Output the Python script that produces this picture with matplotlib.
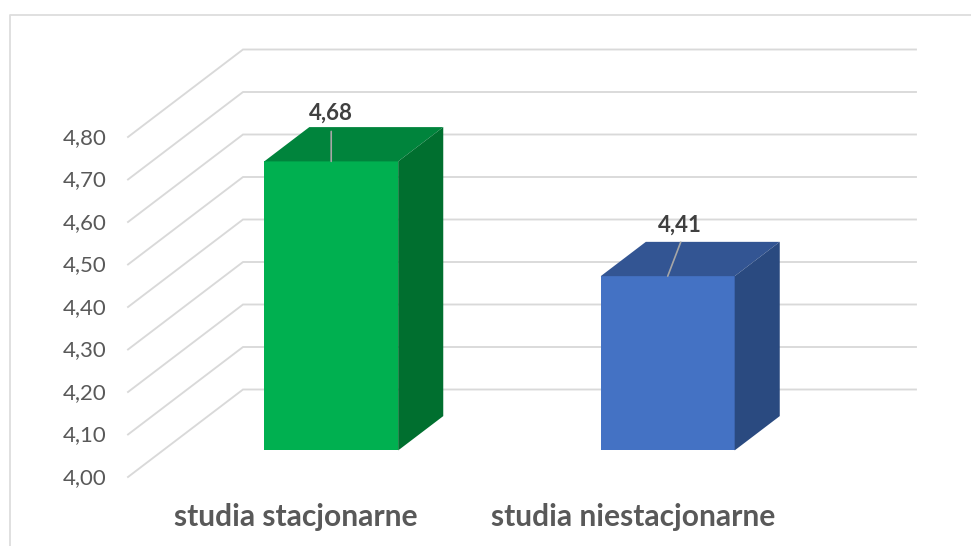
import matplotlib
matplotlib.use('Agg')
import matplotlib.pyplot as plt
from matplotlib.lines import Line2D
from matplotlib.patches import Polygon

plt.rcParams['font.family'] = ['Lato', 'DejaVu Sans']

categories = ['studia stacjonarne', 'studia niestacjonarne']
values = [4.68, 4.41]
value_labels = ['4,68', '4,41']
y_ticks = [4.0, 4.1, 4.2, 4.3, 4.4, 4.5, 4.6, 4.7, 4.8]

front_colors = ['#00B050', '#4472C4']
top_colors = ['#00843C', '#335593']
side_colors = ['#006F2F', '#2A4A80']

W, H = 971, 546
PX_PER_CAT = 336.5
PX_PER_VAL = 425.0
BACK_LEFT_PX = 243
BACK_BASE_PX = 389.5
DEPTH_X_PX = 115.0
DEPTH_Y_PX = 87.5
BASE = 4.0
BAR_W = 0.398
BAR_D0, BAR_D1 = 0.304, 0.696   # depth range of the bars, 0 = back wall, 1 = front
GRID = '#D9D9D9'
TEXT = '#595959'
LW = 1.35

fig = plt.figure(figsize=(W / 100, H / 100), dpi=100)
ax = fig.add_axes([0, 0, 1, 1])
ax.set_xlim(-0.5 - BACK_LEFT_PX / PX_PER_CAT, -0.5 + (W - BACK_LEFT_PX) / PX_PER_CAT)
ax.set_ylim(BASE - (H - BACK_BASE_PX) / PX_PER_VAL, BASE + BACK_BASE_PX / PX_PER_VAL)
ax.axis('off')


def proj(x, v, d):
    # oblique projection: depth slides a point left and down
    return (x - d * DEPTH_X_PX / PX_PER_CAT, v - d * DEPTH_Y_PX / PX_PER_VAL)


def px(n):
    return n * 0.72


# chart frame
fig.add_artist(Line2D([9.5 / W, 9.5 / W, 1], [0, 1 - 15 / H, 1 - 15 / H], color='#DDDDDD', lw=1.3))

# gridlines
for t in y_ticks:
    p = [proj(-0.5, t, 1), proj(-0.5, t, 0), proj(1.5, t, 0)]
    ax.plot([q[0] for q in p], [q[1] for q in p], color=GRID, lw=LW, zorder=1, solid_joinstyle='miter')
    ax.annotate(f'{t:.2f}'.replace('.', ','), proj(-0.5, t, 1), xytext=(px(-21), px(-1)),
                textcoords='offset points', ha='right', va='center', fontsize=16, color=TEXT)

# bars
for i, v in enumerate(values):
    x0, x1 = i - BAR_W / 2, i + BAR_W / 2
    ax.add_patch(Polygon([proj(x0, BASE, BAR_D1), proj(x1, BASE, BAR_D1), proj(x1, v, BAR_D1), proj(x0, v, BAR_D1)],
                         fc=front_colors[i], ec='none', zorder=3))
    ax.add_patch(Polygon([proj(x0, v, BAR_D1), proj(x1, v, BAR_D1), proj(x1, v, BAR_D0), proj(x0, v, BAR_D0)],
                         fc=top_colors[i], ec='none', zorder=3))
    ax.add_patch(Polygon([proj(x1, BASE, BAR_D1), proj(x1, BASE, BAR_D0), proj(x1, v, BAR_D0), proj(x1, v, BAR_D1)],
                         fc=side_colors[i], ec='none', zorder=3))

# data labels and their leader lines
leader_ends = [(0, 30), (13, 34)]
label_offsets = [(0, 48), (12, 51)]
for i, v in enumerate(values):
    top = proj(i, v, BAR_D1)
    ax.annotate('', top, xytext=(px(leader_ends[i][0]), px(leader_ends[i][1])), textcoords='offset points',
                arrowprops=dict(arrowstyle='-', color='#A6A6A6', lw=1.2, shrinkA=0, shrinkB=0), zorder=4)
    ax.annotate(value_labels[i], top, xytext=(px(label_offsets[i][0]), px(label_offsets[i][1])),
                textcoords='offset points', ha='center', va='center', fontsize=16, fontweight='bold',
                color='#404040', zorder=5)

# category labels
for i, c in enumerate(categories):
    ax.annotate(c, proj(i, BASE, 1), xytext=(0, px(-40)), textcoords='offset points', ha='center', va='center',
                fontsize=21.6, fontweight='bold', color=TEXT)

fig.savefig('out.png', dpi=100, facecolor='white')
